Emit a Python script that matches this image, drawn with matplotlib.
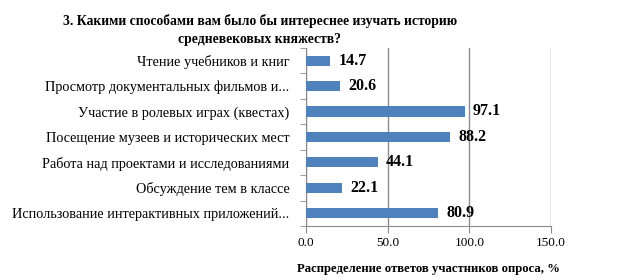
import matplotlib
matplotlib.use("Agg")
import matplotlib.pyplot as plt
import numpy as np

plt.rcParams['font.family'] = ['Liberation Serif', 'DejaVu Serif']

categories = [
    "Чтение учебников и книг",
    "Просмотр документальных фильмов и...",
    "Участие в ролевых играх (квестах)",
    "Посещение музеев и исторических мест",
    "Работа над проектами и исследованиями",
    "Обсуждение тем в классе",
    "Использование интерактивных приложений...",
]
values = [14.7, 20.6, 97.1, 88.2, 44.1, 22.1, 80.9]
x_ticks = [0, 50, 100, 150]

title = "3. Какими способами вам было бы интереснее изучать историю\nсредневековых княжеств?"
x_label = "Распределение ответов участников опроса, %"

bar_color = "#4F81BD"
grid_color = "#8C8C8C"

fig = plt.figure(figsize=(6.26, 2.8), dpi=100)
ax = fig.add_axes([0.489, 0.193, 0.391, 0.636])

y = np.arange(len(categories))
ax.barh(y, values, height=0.4, color=bar_color, zorder=3)

for yi, v in zip(y, values):
    ax.text(v + 5, yi, f"{v:.1f}", va="center", ha="left",
            fontsize=11.5, fontweight="bold", zorder=4)

ax.set_xlim(0, 150)
ax.set_ylim(len(categories) - 0.5, -0.5)
ax.set_xticks(x_ticks)
ax.set_xticklabels([f"{t:.1f}" for t in x_ticks], fontsize=9.5)

ax.set_yticks(y)
ax.set_yticklabels(categories, fontsize=10.3)
ax.tick_params(axis="y", length=0, pad=12)
# boundary ticks between categories
ax.set_yticks(np.arange(-0.5, len(categories), 1), minor=True)
ax.tick_params(axis="y", which="minor", length=4, color=grid_color, direction="out")
ax.tick_params(axis="x", length=5, color=grid_color, direction="out", pad=3)

ax.xaxis.grid(True, color=grid_color, linewidth=1, zorder=0)
for s in ["top", "right"]:
    ax.spines[s].set_visible(False)
for s in ["left", "bottom"]:
    ax.spines[s].set_color(grid_color)

fig.text(0.415, 0.893, title, ha="center", va="center", fontsize=9.8,
         fontweight="bold", linespacing=1.5)
fig.text(0.684, 0.04, x_label, ha="center", va="center", fontsize=9.2,
         fontweight="bold")

fig.savefig("out.png", dpi=100)
